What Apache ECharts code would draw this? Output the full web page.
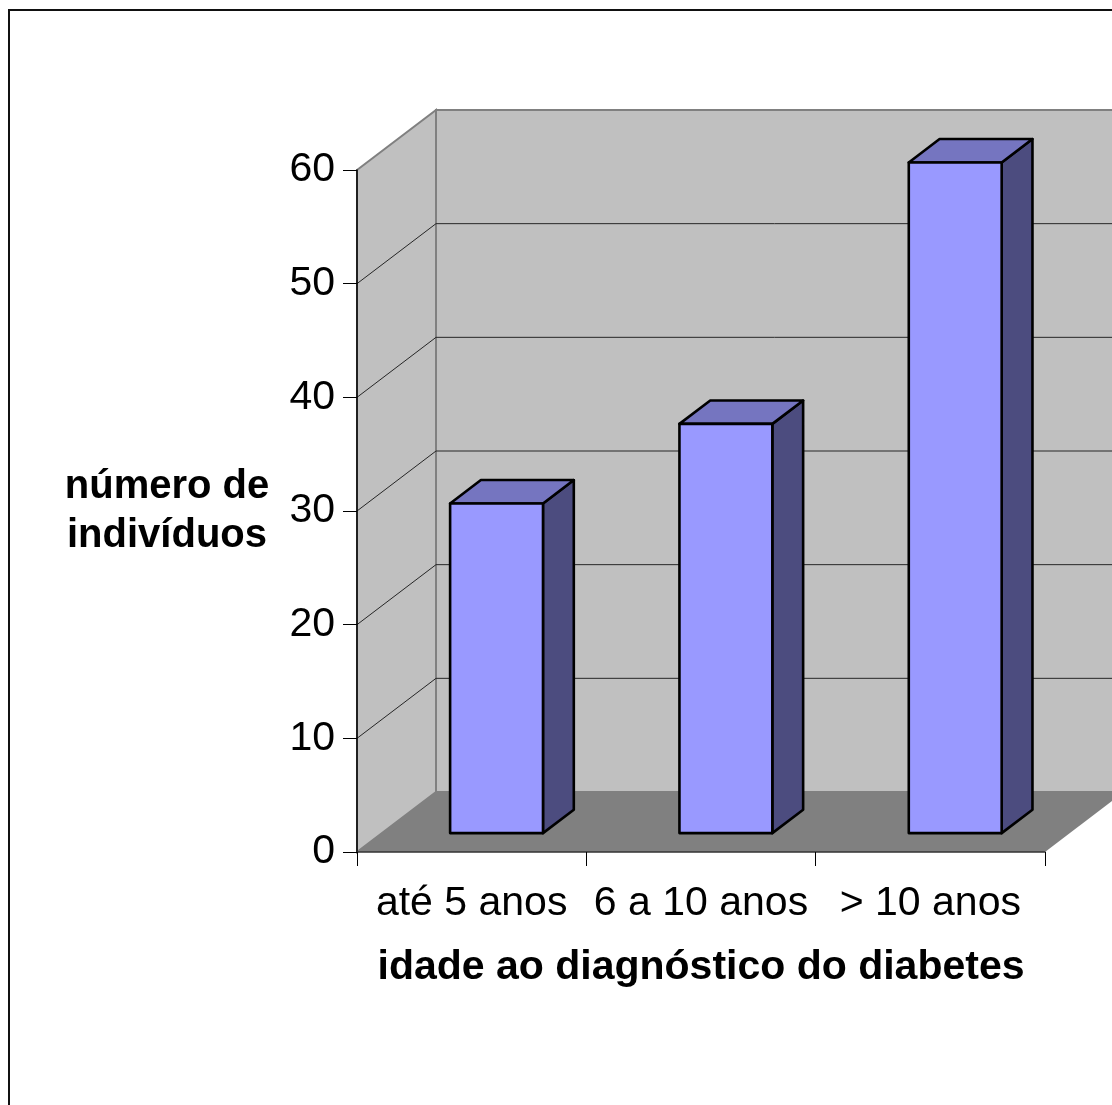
<!DOCTYPE html>
<html>
<head>
<meta charset="utf-8">
<script src="https://cdn.jsdelivr.net/npm/echarts@6/dist/echarts.min.js"></script>
<style>
  html, body { margin: 0; padding: 0; background: #fff; }
  #chart { width: 1112px; height: 1105px; }
</style>
</head>
<body>
<div id="chart"></div>
<script>
// Data
const categories = ['até 5 anos', '6 a 10 anos', '> 10 anos'];
const counts = [29, 36, 59];
const yTicks = [0, 10, 20, 30, 40, 50, 60];
const xTitle = 'idade ao diagnóstico do diabetes';
const yTitle = 'número de\nindivíduos';

// Oblique projection of the full depth of the plot box (pixels)
const DEPTH = [79, -60];
// Bar placement inside the depth and inside each category band
const BAR_FRONT = 0.315;
const BAR_BACK = 0.705;
const BAR_WIDTH = 0.405;
const FONT = "'Liberation Sans', Arial, sans-serif";

function off(p, f) {
  return [p[0] + DEPTH[0] * f, p[1] + DEPTH[1] * f];
}

// Back wall, side wall, floor and the gridlines painted on the walls
function renderWalls(params, api) {
  const cs = params.coordSys;
  const x0 = cs.x, x1 = cs.x + cs.width;
  const yOf = v => api.coord([0, v])[1];
  const yb = yOf(yTicks[0]);
  const yt = yOf(yTicks[yTicks.length - 1]);
  const wallStyle = { fill: '#c0c0c0', stroke: '#808080', lineWidth: 2 };
  const children = [
    { type: 'polygon', shape: { points: [off([x0, yt], 1), off([x1, yt], 1), off([x1, yb], 1), off([x0, yb], 1)] }, style: wallStyle },
    { type: 'polygon', shape: { points: [[x0, yt], off([x0, yt], 1), off([x0, yb], 1), [x0, yb]] }, style: wallStyle },
    { type: 'polygon', shape: { points: [[x0, yb], off([x0, yb], 1), off([x1, yb], 1), [x1, yb]] }, style: { fill: '#808080' } }
  ];
  yTicks.slice(1, -1).forEach(v => {
    const y = yOf(v);
    children.push({
      type: 'polyline',
      shape: { points: [[x0, y], off([x0, y], 1), off([x1, y], 1)] },
      style: { stroke: '#262626', lineWidth: 1, fill: null }
    });
  });
  return { type: 'group', children };
}

// One box-shaped column per category
function renderBar(params, api) {
  const idx = api.value(0);
  const val = api.value(1);
  const top = api.coord([idx, val]);
  const base = api.coord([idx, 0]);
  const hw = api.size([1, 0])[0] * BAR_WIDTH / 2;
  const cx = top[0];
  const fTL = off([cx - hw, top[1]], BAR_FRONT);
  const fTR = off([cx + hw, top[1]], BAR_FRONT);
  const fBR = off([cx + hw, base[1]], BAR_FRONT);
  const fBL = off([cx - hw, base[1]], BAR_FRONT);
  const bTL = off([cx - hw, top[1]], BAR_BACK);
  const bTR = off([cx + hw, top[1]], BAR_BACK);
  const bBR = off([cx + hw, base[1]], BAR_BACK);
  const edge = { stroke: '#000', lineWidth: 2.6, lineJoin: 'round' };
  return {
    type: 'group',
    children: [
      { type: 'polygon', shape: { points: [fTR, bTR, bBR, fBR] }, style: Object.assign({ fill: '#4c4c7f' }, edge) },
      { type: 'polygon', shape: { points: [fTL, fTR, bTR, bTL] }, style: Object.assign({ fill: '#7575c0' }, edge) },
      { type: 'polygon', shape: { points: [fTL, fTR, fBR, fBL] }, style: Object.assign({ fill: '#9999ff' }, edge) }
    ]
  };
}

const chart = echarts.init(document.getElementById('chart'), null, { renderer: 'canvas' });

chart.setOption({
  animation: false,
  backgroundColor: '#fff',
  textStyle: { fontFamily: FONT },
  grid: {
    left: 357, top: 170, width: 688, height: 682,
    containLabel: false,
    outerBoundsMode: 'none'
  },
  xAxis: {
    type: 'category',
    data: categories,
    boundaryGap: true,
    z: 5,
    axisLine: { show: true, lineStyle: { color: '#333', width: 1.5 } },
    axisTick: { show: true, length: 14, lineStyle: { color: '#000', width: 1 } },
    axisLabel: { fontSize: 41, color: '#000', margin: 31, fontFamily: FONT, interval: 0 },
    splitLine: { show: false },
    name: xTitle,
    nameLocation: 'middle',
    nameGap: 95,
    nameTextStyle: { fontSize: 41, fontWeight: 'bold', color: '#000', fontFamily: FONT }
  },
  yAxis: {
    type: 'value',
    min: yTicks[0],
    max: yTicks[yTicks.length - 1],
    interval: 10,
    z: 5,
    axisLine: { show: true, lineStyle: { color: '#000', width: 1.5 } },
    axisTick: { show: true, length: 14, lineStyle: { color: '#000', width: 1 } },
    axisLabel: { fontSize: 41, color: '#000', margin: 22, fontFamily: FONT, padding: [5, 0, 0, 0] },
    splitLine: { show: false },
    name: yTitle,
    nameLocation: 'middle',
    nameRotate: 0,
    nameGap: 190,
    nameTextStyle: {
      fontSize: 40, fontWeight: 'bold', color: '#000', fontFamily: FONT,
      align: 'center', verticalAlign: 'middle', lineHeight: 49
    }
  },
  graphic: [{
    type: 'rect',
    z: 100,
    shape: { x: 9, y: 10, width: 1400, height: 1400 },
    style: { fill: 'rgba(0,0,0,0)', stroke: '#111', lineWidth: 2 }
  }],
  series: [
    {
      type: 'custom',
      name: 'walls',
      z: 1,
      clip: false,
      silent: true,
      renderItem: renderWalls,
      encode: { x: 0, y: 1 },
      data: [[0, 0]]
    },
    {
      type: 'custom',
      name: 'número de indivíduos',
      z: 2,
      clip: false,
      renderItem: renderBar,
      encode: { x: 0, y: 1 },
      data: counts.map((v, i) => [i, v])
    }
  ]
});
</script>
</body>
</html>
